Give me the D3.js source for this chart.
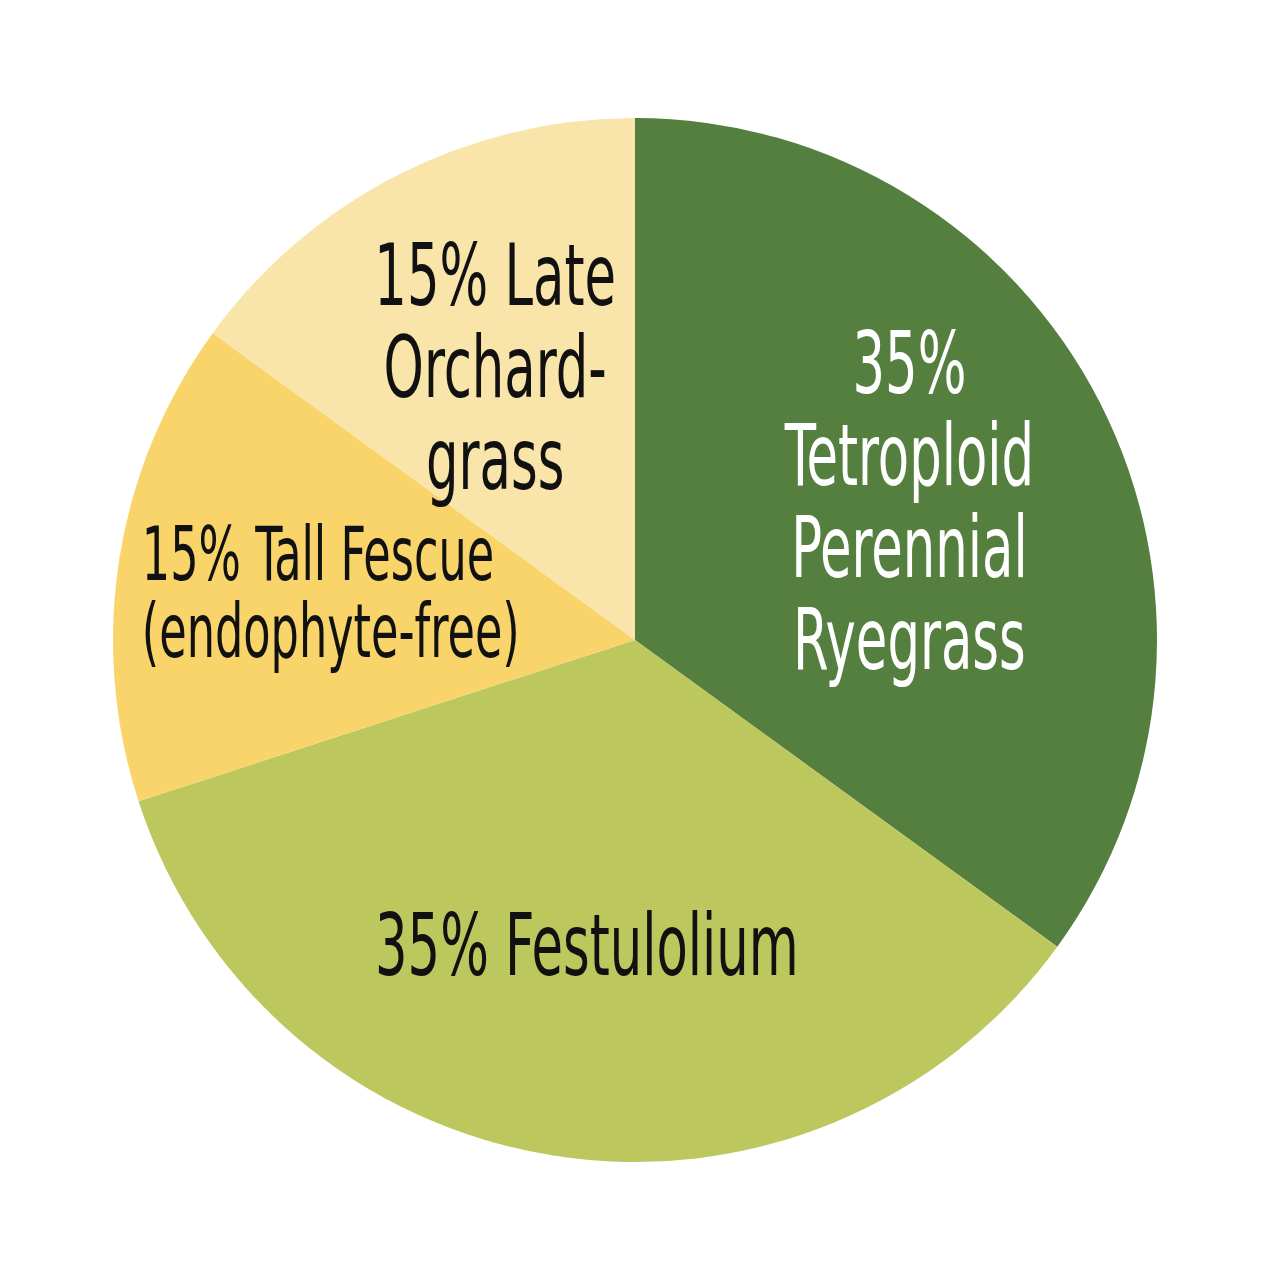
<!DOCTYPE html>
<html>
<head>
<meta charset="utf-8">
<script src="https://cdn.jsdelivr.net/npm/d3@7.9.0/dist/d3.min.js"></script>
<style>
  body { margin: 0; background: #fff; }
  svg { display: block; }
  text { font-family: "DejaVu Sans Condensed", "Liberation Sans Narrow", sans-serif; }
</style>
</head>
<body>
<div id="chart"></div>
<script>
// data
const species = ['Tetroploid Perennial Ryegrass', 'Festulolium', 'Tall Fescue', 'Late Orchardgrass'];
const shares = [35, 35, 15, 15];
const labelLines = [
  ['35%', 'Tetroploid', 'Perennial', 'Ryegrass'],
  ['35% Festulolium'],
  ['15% Tall Fescue', '(endophyte-free)'],
  ['15% Late', 'Orchard-', 'grass']
];
const colors = ['#547f3f', '#bcc75e', '#f8d46a', '#f9e4a9'];
const textColors = ['#ffffff', '#111111', '#111111', '#111111'];

const width = 1271;
const height = 1280;
const cx = 635;
const cy = 640;
const radius = 522;

const svg = d3.select('#chart')
  .append('svg')
  .attr('width', width)
  .attr('height', height);

const g = svg.append('g').attr('transform', `translate(${cx},${cy})`);

const pie = d3.pie().sort(null).value((d) => d);
const arcs = pie(shares);

const arc = d3.arc().innerRadius(0).outerRadius(radius);
const labelArc = d3.arc().innerRadius(radius * 0.59).outerRadius(radius * 0.59);

g.selectAll('path')
  .data(arcs)
  .join('path')
  .attr('d', arc)
  .attr('fill', (d, i) => colors[i]);

// labels, squeezed horizontally to look like a condensed face
const sx = 0.67;
arcs.forEach((d, i) => {
  const small = i === 2;
  const fs = small ? 74 : 85;
  const lh = small ? 77 : 92;
  const cap = fs * 0.73;
  const [lx, ly] = labelArc.centroid(d);
  const lines = labelLines[i];
  const y0 = ly - (lines.length - 1) * lh / 2 + cap / 2;

  const lg = g.append('g').attr('transform', `translate(${lx},0) scale(${sx},1)`);
  const t = lg.append('text')
    .attr('fill', textColors[i])
    .attr('font-size', fs)
    .attr('text-anchor', small ? 'start' : 'middle');

  t.selectAll('tspan')
    .data(lines)
    .join('tspan')
    .attr('x', 0)
    .attr('y', (l, j) => y0 + j * lh)
    .text((l) => l);

  if (small) {
    // left aligned block, centred on the label point
    const w = t.node().getBBox().width;
    t.selectAll('tspan').attr('x', -w / 2);
  }
});
</script>
</body>
</html>
